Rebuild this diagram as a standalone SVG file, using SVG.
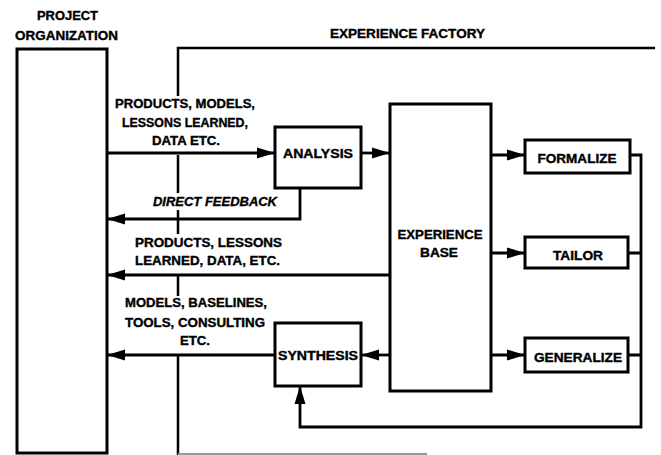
<svg xmlns="http://www.w3.org/2000/svg" width="661" height="455" viewBox="0 0 661 455">
<style>
text{font-family:"Liberation Sans",Arial,sans-serif;font-weight:bold;font-size:12px;fill:#000;stroke:#000;stroke-width:0.35;}
.box{fill:#fff;stroke:#000;stroke-width:3;}
.ln{fill:none;stroke:#000;stroke-width:2.8;}
.bd{fill:none;stroke:#000;stroke-width:2.5;}
</style>
<defs>
<marker id="ah" markerUnits="userSpaceOnUse" markerWidth="20" markerHeight="12" refX="18" refY="6" orient="auto">
<path d="M0,0.5 L18,6 L0,11.5 Z" fill="#000"/>
</marker>
</defs>
<rect width="661" height="455" fill="#fff"/>
<g id="boundary">
<path class="bd" d="M178,96 V48 H655"/>
<path class="bd" d="M178,155 V193 M178,210 V234 M178,276 V296 M178,356 V455"/>
<path d="M178,454 H427" stroke="#999" stroke-width="2" fill="none"/>
<text x="330" y="38" textLength="155" lengthAdjust="spacingAndGlyphs">EXPERIENCE FACTORY</text>
</g>
<g id="project-organization">
<rect class="box" x="17" y="49" width="90" height="404"/>
<text x="37" y="20" textLength="61" lengthAdjust="spacingAndGlyphs">PROJECT</text>
<text x="15" y="40" textLength="103" lengthAdjust="spacingAndGlyphs">ORGANIZATION</text>
</g>
<g id="analysis">
<rect class="box" x="275" y="127" width="86" height="61"/>
<text x="318" y="158" text-anchor="middle" textLength="70" lengthAdjust="spacingAndGlyphs">ANALYSIS</text>
</g>
<g id="synthesis">
<rect class="box" x="275" y="323" width="86" height="63"/>
<text x="318" y="360" text-anchor="middle" textLength="80" lengthAdjust="spacingAndGlyphs">SYNTHESIS</text>
</g>
<g id="experience-base">
<rect class="box" x="390" y="104" width="101" height="287"/>
<text x="440" y="239" text-anchor="middle" textLength="85" lengthAdjust="spacingAndGlyphs">EXPERIENCE</text>
<text x="439" y="257" text-anchor="middle" textLength="38" lengthAdjust="spacingAndGlyphs">BASE</text>
</g>
<g id="formalize">
<rect class="box" x="525" y="140" width="105" height="33"/>
<text x="577" y="163" text-anchor="middle" textLength="79" lengthAdjust="spacingAndGlyphs">FORMALIZE</text>
</g>
<g id="tailor">
<rect class="box" x="525" y="237" width="103" height="31"/>
<text x="578" y="260" text-anchor="middle" textLength="50" lengthAdjust="spacingAndGlyphs">TAILOR</text>
</g>
<g id="generalize">
<rect class="box" x="525" y="338" width="103" height="34"/>
<text x="578" y="362" text-anchor="middle" textLength="88" lengthAdjust="spacingAndGlyphs">GENERALIZE</text>
</g>
<g id="connectors">
<path class="ln" d="M107,153 H275" marker-end="url(#ah)"/>
<path class="ln" d="M361,153 H390" marker-end="url(#ah)"/>
<path class="ln" d="M300,188 V219 H107" marker-end="url(#ah)"/>
<path class="ln" d="M390,275 H107" marker-end="url(#ah)"/>
<path class="ln" d="M275,355 H107" marker-end="url(#ah)"/>
<path class="ln" d="M390,355 H361" marker-end="url(#ah)"/>
<path class="ln" d="M491,155 H525" marker-end="url(#ah)"/>
<path class="ln" d="M491,253 H525" marker-end="url(#ah)"/>
<path class="ln" d="M491,355 H525" marker-end="url(#ah)"/>
<path class="ln" d="M630,155 H641 V427 H300 V386" marker-end="url(#ah)"/>
<path class="ln" d="M628,253 H641 M628,355 H641"/>
</g>
<g id="labels">
<text x="115" y="108" textLength="140" lengthAdjust="spacingAndGlyphs">PRODUCTS, MODELS,</text>
<text x="122" y="127" textLength="126" lengthAdjust="spacingAndGlyphs">LESSONS LEARNED,</text>
<text x="152" y="145" textLength="68" lengthAdjust="spacingAndGlyphs">DATA ETC.</text>
<text x="153" y="206" font-style="italic" textLength="124" lengthAdjust="spacingAndGlyphs">DIRECT FEEDBACK</text>
<text x="135" y="247" textLength="147" lengthAdjust="spacingAndGlyphs">PRODUCTS, LESSONS</text>
<text x="135" y="265" textLength="145" lengthAdjust="spacingAndGlyphs">LEARNED, DATA, ETC.</text>
<text x="125" y="307" textLength="142" lengthAdjust="spacingAndGlyphs">MODELS, BASELINES,</text>
<text x="125" y="327" textLength="140" lengthAdjust="spacingAndGlyphs">TOOLS, CONSULTING</text>
<text x="180" y="345" textLength="30" lengthAdjust="spacingAndGlyphs">ETC.</text>
</g>
</svg>
